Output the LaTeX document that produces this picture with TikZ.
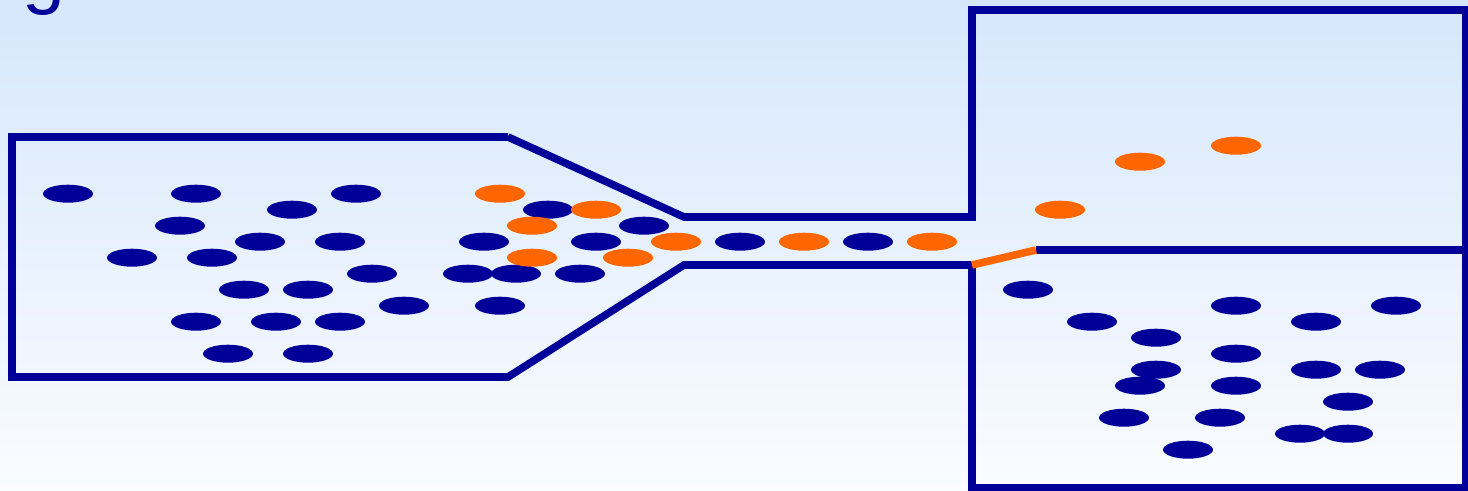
\documentclass[tikz,border=0pt]{standalone}
\usepackage{fontspec}
\setmainfont{Liberation Sans}
\definecolor{navy}{RGB}{0,0,153}
\definecolor{orng}{RGB}{255,102,0}
\definecolor{bgtop}{RGB}{214,231,252}
\definecolor{bgbot}{RGB}{250,252,255}
\tikzset{
  wall/.style={draw=navy,line width=3.8pt,line join=miter},
  gate/.style={draw=orng,line width=3.8pt},
  bdot/.style={fill=navy},
  odot/.style={fill=orng},
}
\begin{document}
\begin{tikzpicture}[x=0.5pt,y=-0.5pt]
\useasboundingbox (0,0) rectangle (1468,491);
\shade[top color=bgtop,bottom color=bgbot] (0,0) rectangle (1468,491);
\clip (0,0) rectangle (1468,491);
\node[anchor=base west,inner sep=0pt,text=navy,font=\fontsize{38.5pt}{40pt}\selectfont] (title) at (22,-0.3) {good selector};
% walls
\coordinate (lt) at (12,137);
\coordinate (lb) at (12,377);
\coordinate (ft) at (508,137);
\coordinate (fb) at (508,377);
\coordinate (ct) at (684,217);
\coordinate (cb) at (684,265);
\coordinate (jt) at (972,217);
\coordinate (jb) at (972,265);
\coordinate (ut) at (972,10);
\coordinate (ur) at (1466,10);
\coordinate (br) at (1466,488);
\coordinate (bl) at (972,488);
\coordinate (ms) at (1036,250);
\coordinate (me) at (1466,250);
\draw[wall] (ft) -- (lt) -- (lb) -- (fb) -- (cb) -- (jb) -- (bl) -- (br) -- (ur) -- (ut) -- (jt) -- (ct) -- (ft);
\draw[wall] (ms) -- (me);
\draw[gate] (jb) -- (ms);
% blue particles
\foreach \x/\y in {68/193.7,196/193.7,356/193.7,292/209.7,180/225.7,260/241.7,340/241.7,484/241.7,
  132/257.7,212/257.7,372/273.7,468/273.7,516/273.7,244/289.7,308/289.7,404/305.7,500/305.7,
  196/321.7,276/321.7,340/321.7,228/353.7,308/353.7,
  548/209.7,644/225.7,596/241.7,580/273.7,740/241.7,868/241.7,
  1028/289.7,1092/321.7,1156/337.7,1236/305.7,1316/321.7,1396/305.7,1236/353.7,1156/369.7,
  1140/385.7,1236/385.7,1316/369.7,1380/369.7,1348/401.7,1124/417.7,1220/417.7,1300/433.7,
  1348/433.7,1188/449.7}
  \fill[bdot] (\x,\y) ellipse [x radius=12.5pt,y radius=4.5pt];
% orange particles
\foreach \x/\y in {500/193.7,596/209.7,532/225.7,532/257.7,628/257.7,676/241.7,804/241.7,932/241.7,
  1060/209.7,1140/161.7,1236/145.7}
  \fill[odot] (\x,\y) ellipse [x radius=12.5pt,y radius=4.5pt];
\end{tikzpicture}
\end{document}
